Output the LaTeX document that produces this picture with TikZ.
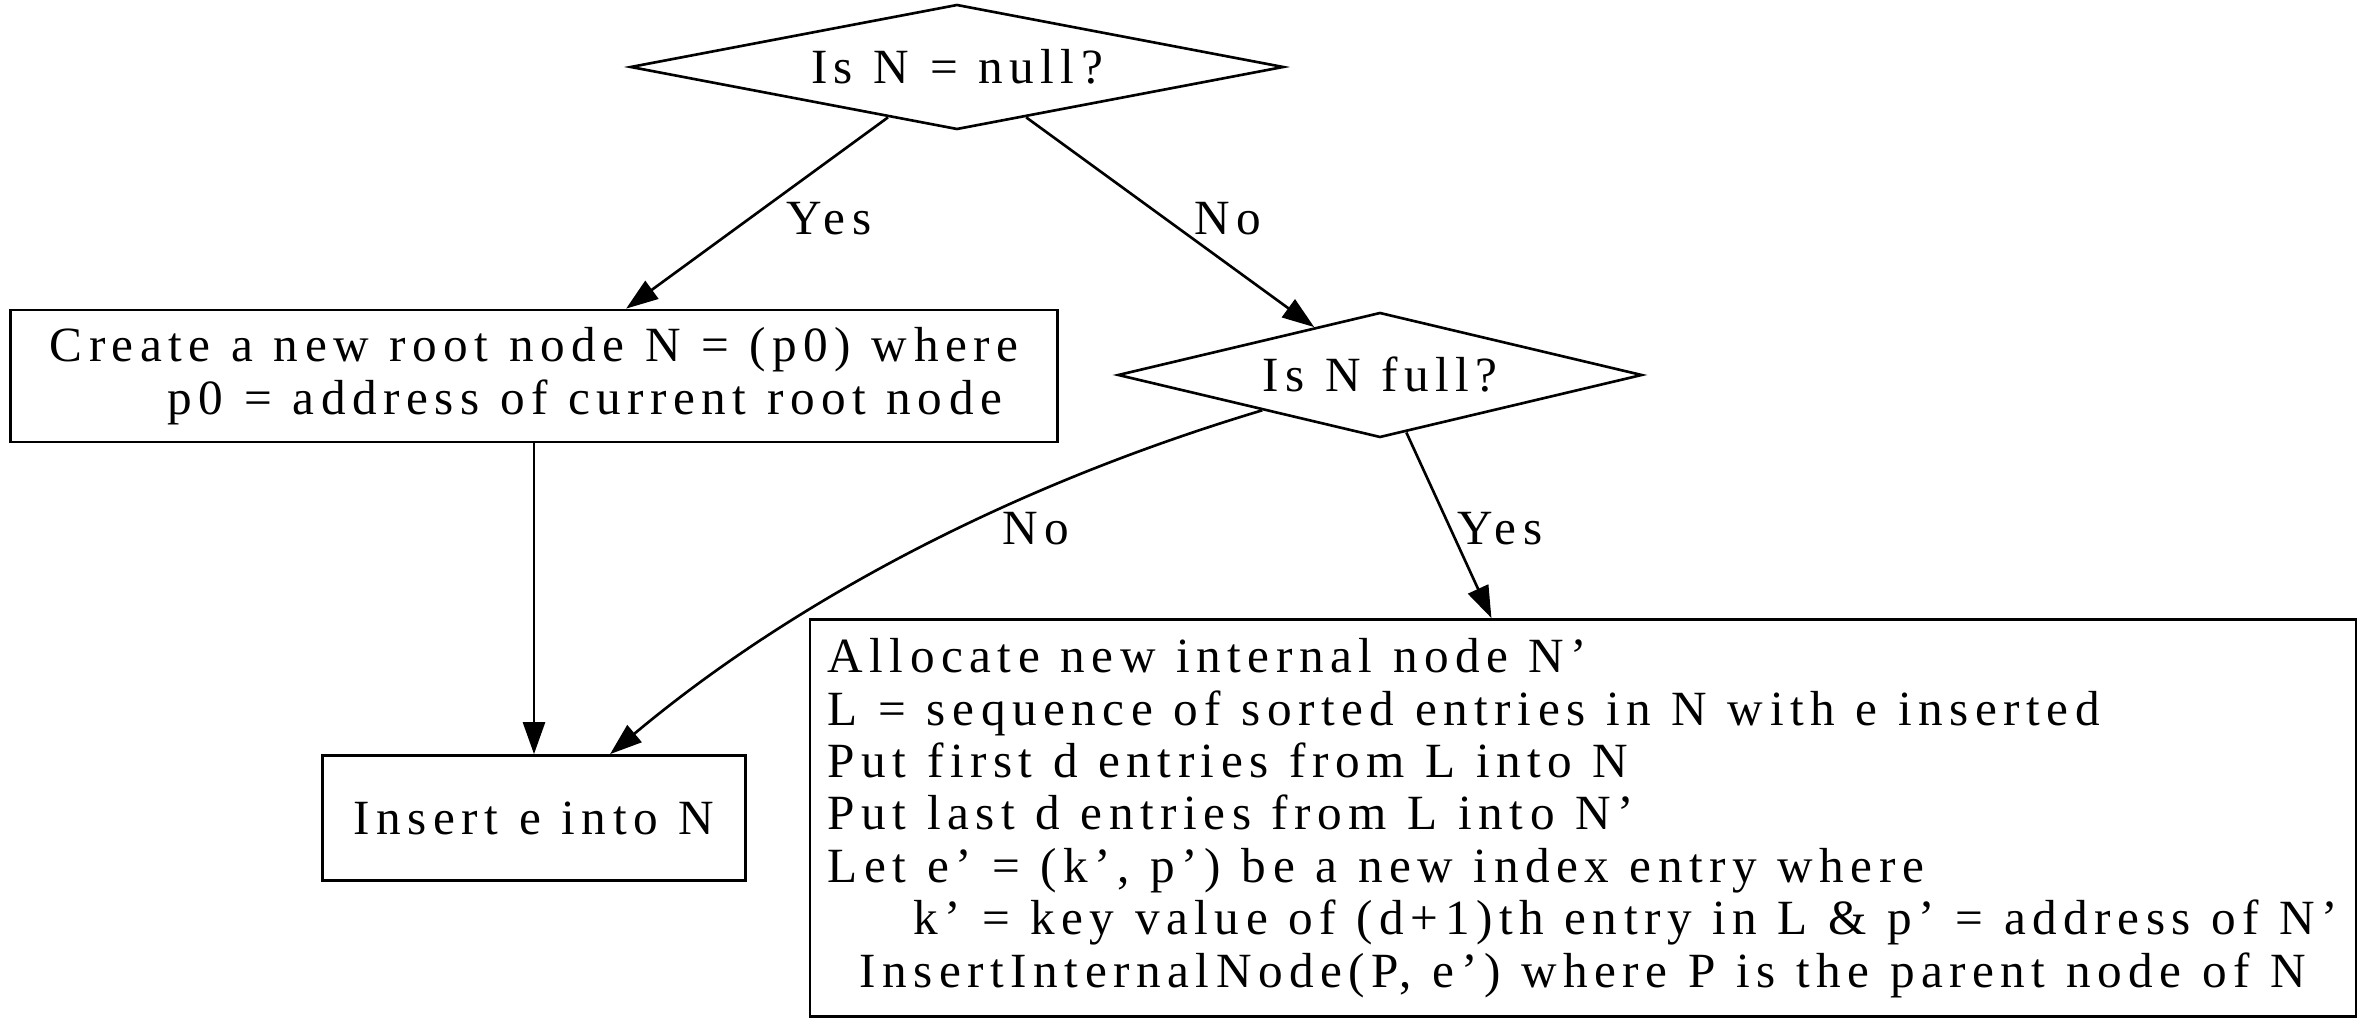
\documentclass[tikz,border=0pt]{standalone}
\usepackage{fontspec}
\setmainfont{Liberation Serif}[LetterSpace=13.2,WordSpace=1.1]
\usetikzlibrary{arrows.meta,shapes.geometric}

\begin{document}
\begin{tikzpicture}[x=0.01cm,y=-0.01cm,line width=.75pt,
  >={Triangle[length=3.2mm,width=2.2mm]},
  font=\fontsize{14}{14.9}\selectfont,
  test/.style={draw,diamond,inner sep=1pt,minimum height=1.25cm},
  stepbox/.style={draw,rectangle,inner sep=0pt,align=left},
  lbl/.style={anchor=base,inner sep=0pt}]
 \useasboundingbox (0,0) rectangle (2368,1028);
 \node[test,aspect=5.2,minimum width=6.53cm] (isnull) at (957,67) {Is N = null?};
 \node[test,aspect=4.2,minimum width=5.24cm] (isfull) at (1380,375) {Is N full?};
 \node[stepbox,minimum width=10.46cm,minimum height=1.32cm] (newroot) at (534,376)
   {Create a new root node N = (p0) where\\
    \hspace*{1.18cm}p0 = address of current root node};
 \node[stepbox,minimum width=4.23cm,minimum height=1.25cm] (insert) at (534,818)
   {Insert e into N};
 \node[stepbox,minimum width=15.45cm,minimum height=3.97cm] (split) at (1583,818)
   {Allocate new internal node N’\\
    L = sequence of sorted entries in N with e inserted\\
    Put first d entries from L into N\\
    Put last d entries from L into N’\\
    Let e’ = (k’, p’) be a new index entry where\\
    \hspace*{.86cm}k’ = key value of (d+1)th entry in L \& p’ = address of N’\\
    \hspace*{.32cm}InsertInternalNode(P, e’) where P is the parent node of N};
 \draw[->] (isnull) -- (newroot);
 \draw[->] (isnull) -- (isfull);
 \draw[->] (newroot) -- (insert);
 \draw[->] (isfull) .. controls (980,495) and (770,620) .. (insert);
 \draw[->] (isfull) -- (split);
 \node[lbl] (yes1) at (829,235) {Yes};
 \node[lbl] (no1) at (1228,235) {No};
 \node[lbl] (no2) at (1036,545) {No};
 \node[lbl] (yes2) at (1500,545) {Yes};
\end{tikzpicture}
\end{document}
